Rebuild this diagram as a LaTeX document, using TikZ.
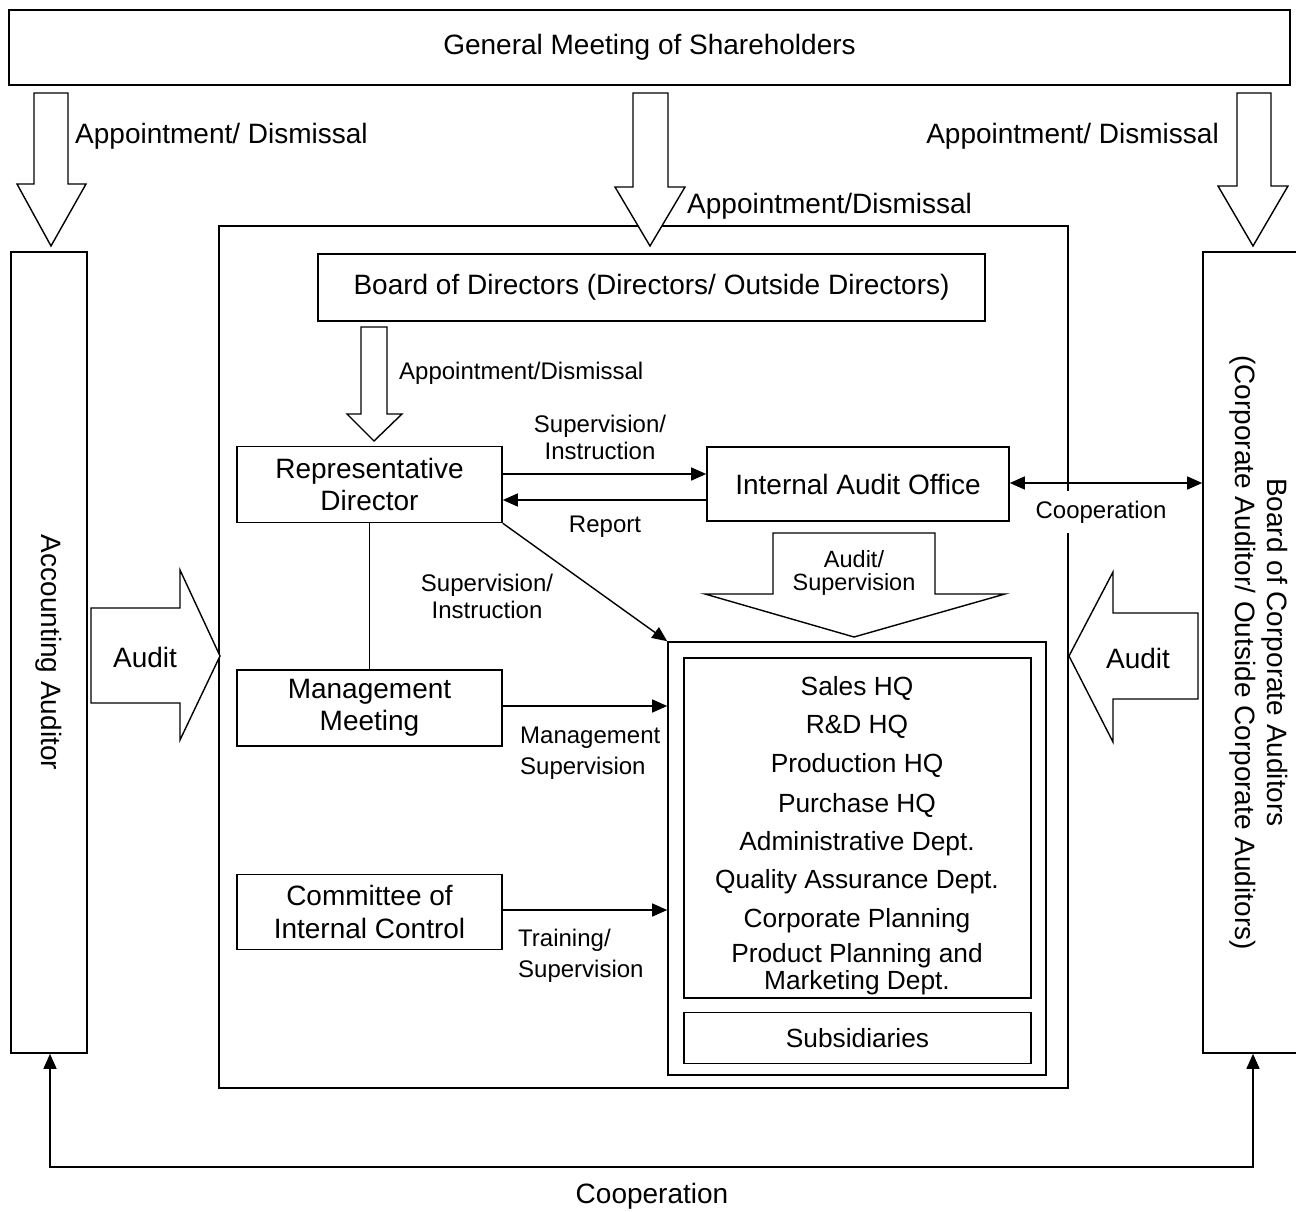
\documentclass[tikz,border=0pt]{standalone}
\usepackage{fontspec}
\setmainfont{Liberation Sans}
\usepackage{graphicx}
\usetikzlibrary{arrows.meta}
\newcommand\bigf{\fontsize{28}{32.5}\selectfont}
\newcommand\smf{\fontsize{24}{27}\selectfont}
\newcommand\smwide{\fontsize{24}{31}\selectfont}
\newcommand\smtight{\fontsize{23.5}{23}\selectfont}
\newcommand\depf{\fontsize{26.3}{30}\selectfont}
\newcommand\deptight{\fontsize{26.3}{26.5}\selectfont}
\begin{document}
\begin{tikzpicture}[x=1pt,y=-1pt,
  box/.style={draw, line width=1.6pt, inner sep=0pt, align=center, font=\bigf},
  harrow/.style={draw, line width=1.4pt, fill=white, line join=miter},
  arr/.style={line width=1.4pt, -{Triangle[length=15pt,width=13pt]}},
  arrtwo/.style={line width=1.4pt, {Triangle[length=15pt,width=13pt]}-{Triangle[length=15pt,width=13pt]}},
  plain/.style={line width=1.4pt},
  lbl/.style={inner sep=0pt, font=\smf, align=center},
  biglbl/.style={inner sep=0pt, font=\bigf, align=center},
  deptext/.style={inner sep=0pt, font=\depf, align=center}]
\useasboundingbox (0,0) rectangle (1296,1212);
\fill[white] (0,0) rectangle (1296,1212);

% main frames
\node[box, minimum width=1281, minimum height=75] (gm) at (649.5,47.5) {General Meeting of Shareholders};
\node[box, minimum width=849, minimum height=862] (main) at (643.5,657) {};
\node[box, minimum width=76, minimum height=801] (acc) at (49,652.5) {\rotatebox{-90}{Accounting Auditor}};
\node[box, minimum width=110, minimum height=801] (board) at (1258,652.5)
  {\rotatebox{-90}{\begin{tabular}{@{}c@{}}Board of Corporate Auditors\\(Corporate Auditor/ Outside Corporate Auditors)\end{tabular}}};

% inner boxes
\node[box, minimum width=667, minimum height=67] (bod) at (651.5,287.5) {Board of Directors (Directors/ Outside Directors)};
\node[box, minimum width=265, minimum height=76] (rep) at (369.5,484.5) {Representative\\Director};
\node[box, minimum width=302, minimum height=74] (iao) at (858,484) {Internal Audit Office};
\node[box, minimum width=265, minimum height=76] (mm) at (369.5,708) {Management\\Meeting};
\node[box, minimum width=265, minimum height=75] (cic) at (369.5,912) {Committee of\\Internal Control};
\node[box, minimum width=378, minimum height=433] (dep) at (857,858.5) {};
\node[box, minimum width=347, minimum height=340] (hq) at (857.5,828) {};
\node[box, font=\depf, minimum width=347, minimum height=51] (sub) at (857.5,1038) {Subsidiaries};

% department texts
\node[deptext] (d1) at (857,688) {Sales HQ};
\node[deptext] (d2) at (857,727) {R\&D HQ};
\node[deptext] (d3) at (857,765) {Production HQ};
\node[deptext] (d4) at (857,805) {Purchase HQ};
\node[deptext] (d5) at (857,844) {Administrative Dept.};
\node[deptext] (d6) at (857,882) {Quality Assurance Dept.};
\node[deptext] (d7) at (857,921) {Corporate Planning};
\node[deptext, font=\deptight] (d8) at (857,969) {Product Planning and\\Marketing Dept.};

% hollow arrows from the general meeting
\draw[harrow] (34,93) -- (68,93) -- (68,184) -- (86,184) -- (51,246) -- (17,184) -- (34,184) -- cycle;
\draw[harrow] (633,93) -- (668,93) -- (668,187) -- (685,187) -- (650,246) -- (615,187) -- (633,187) -- cycle;
\draw[harrow] (1237,93) -- (1271,93) -- (1271,186) -- (1288,186) -- (1253,246) -- (1218,186) -- (1237,186) -- cycle;
\node[biglbl, anchor=west] (apl) at (75,136) {Appointment/ Dismissal};
\node[biglbl, anchor=west] (apc) at (687,206) {Appointment/Dismissal};
\node[biglbl, anchor=east] (apr) at (1219,136) {Appointment/ Dismissal};

% board -> representative director
\draw[harrow] (361,327) -- (387,327) -- (387,414) -- (402,414) -- (374,441) -- (347,414) -- (361,414) -- cycle;
\node[lbl, anchor=west] (api) at (399,373) {Appointment/Dismissal};

% representative director <-> internal audit office
\draw[arr] ([yshift=10.5pt]rep.east) -- ([yshift=10.5pt]rep.east -| iao.west);
\draw[arr] ([yshift=-15.5pt]rep.east -| iao.west) -- ([yshift=-15.5pt]rep.east);
\node[lbl] (supi1) at (600,437) {Supervision/\\Instruction};
\node[lbl] (rpt) at (605,527) {Report};

% representative director -> departments
\draw[arr] (rep.south east) -- (dep.north west);
\node[lbl] (supi2) at (487,596) {Supervision/\\Instruction};
\draw[plain] (rep.south) -- (mm.north);

% management meeting / committee -> departments
\draw[arr] ([yshift=2pt]mm.east) -- ([yshift=2pt]mm.east -| dep.west);
\node[lbl, font=\smwide, align=left, anchor=west] (msup) at (520,753) {Management\\Supervision};
\draw[arr] ([yshift=2pt]cic.east) -- ([yshift=2pt]cic.east -| dep.west);
\node[lbl, font=\smwide, align=left, anchor=west] (tsup) at (518,956) {Training/\\Supervision};

% internal audit office -> departments
\draw[harrow] (773,533) -- (935,533) -- (935,594) -- (1005,594) -- (854,637) -- (705,594) -- (773,594) -- cycle;
\node[lbl, font=\smtight] (asup) at (854,573) {Audit/\\Supervision};

% audit arrows
\draw[harrow] (91,608) -- (180,608) -- (180,570) -- (220,656) -- (180,740) -- (180,703) -- (91,703) -- cycle;
\node[biglbl] (audl) at (145,657) {Audit};
\draw[harrow] (1198,613) -- (1113,613) -- (1113,572) -- (1069,656) -- (1113,742) -- (1113,699) -- (1198,699) -- cycle;
\node[biglbl] (audr) at (1138,658) {Audit};

% cooperation internal audit <-> board of corporate auditors
\draw[arrtwo] ([yshift=1pt]iao.east) -- ([yshift=1pt]iao.east -| board.west);
\node[lbl, fill=white, inner xsep=3pt, inner ysep=10pt] (coop1) at (1101,512) {Cooperation};

% cooperation accounting auditor <-> board of corporate auditors
\coordinate (bl) at (50,1167);
\coordinate (br) at (1253,1167);
\draw[arrtwo] (acc.south -| bl) -- (bl) -- (br) -- (board.south -| br);
\node[biglbl] (coop2) at (652,1196) {Cooperation};
\end{tikzpicture}
\end{document}
